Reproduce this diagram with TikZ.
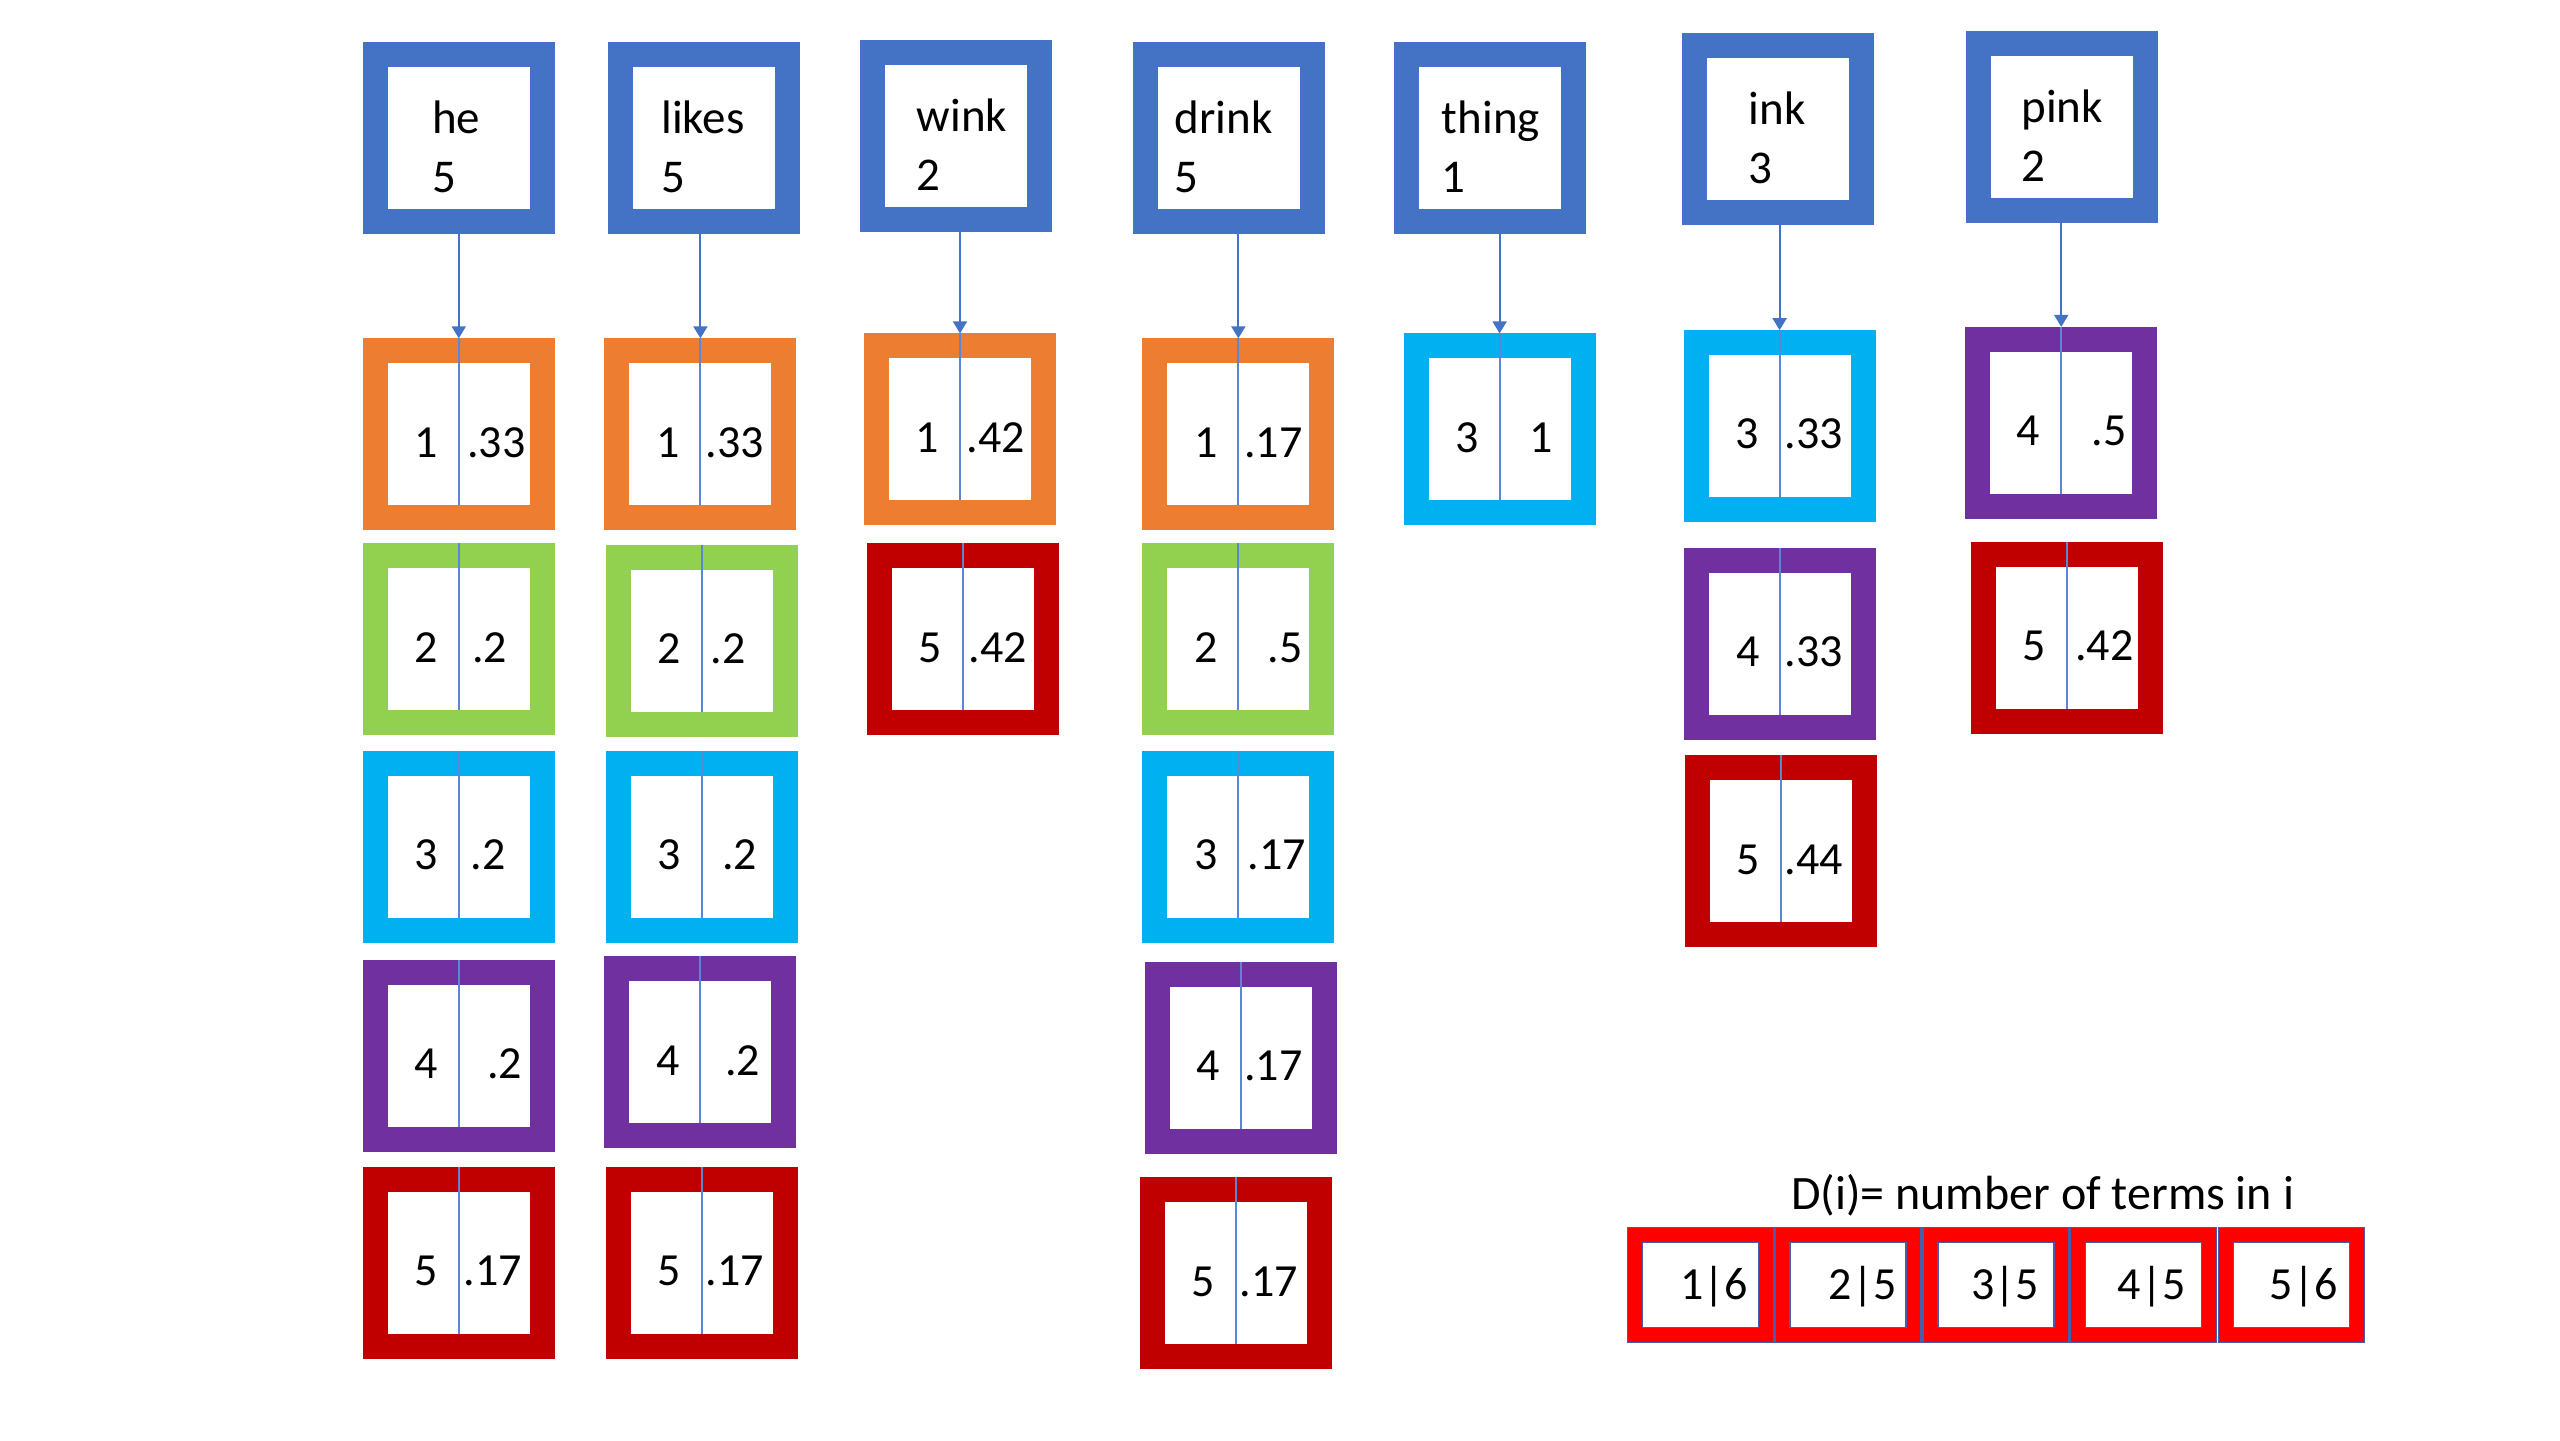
\documentclass[tikz,border=0pt]{standalone}
\usepackage{fontspec}
\setmainfont{Carlito}
\usetikzlibrary{arrows.meta}
\definecolor{tblue}{HTML}{4472C4}
\definecolor{corange}{HTML}{ED7D31}
\definecolor{cgreen}{HTML}{92D050}
\definecolor{ccyan}{HTML}{00B0F0}
\definecolor{cpurple}{HTML}{7030A0}
\definecolor{cred}{HTML}{C00000}
\definecolor{lred}{HTML}{FF0000}
\definecolor{divc}{HTML}{5B86D6}
\definecolor{ledge}{HTML}{4A5DA8}
\tikzset{
  topbox/.style={draw=tblue, line width=25pt, minimum width=167pt, minimum height=167pt, inner sep=0pt, outer sep=12.5pt},
  cellbox/.style={draw=#1, line width=25pt, minimum width=167pt, minimum height=167pt, inner sep=0pt, outer sep=12.5pt},
  divline/.style={draw=divc, line width=2pt},
  ptr/.style={draw=tblue, line width=2pt, -{Triangle[width=14pt,length=12pt]}},
  toptxt/.style={font=\fontsize{47}{58}\selectfont, anchor=base west, inner sep=0pt},
  celltxt/.style={font=\fontsize{46}{54}\selectfont, anchor=base, inner sep=0pt},
  legout/.style={fill=lred, draw=ledge, line width=1.5pt, minimum width=146pt, minimum height=115pt, inner sep=0pt},
  legin/.style={fill=white, draw=ledge, line width=1.5pt, minimum width=116pt, minimum height=85pt, inner sep=0pt},
  legtxt/.style={font=\fontsize{46}{54}\selectfont, anchor=base, inner sep=0pt},
  titletxt/.style={font=\fontsize{48}{56}\selectfont, anchor=base west, inner sep=0pt}
}
% name, cx, cy, word, number, text left x
\newcommand\mktop[6]{%
  \node[topbox] (#1) at (#2,#3) {};
  \node[toptxt] (#1-w) at (#6,{#3-2.5}) {#4};
  \node[toptxt] (#1-n) at (#6,{#3+33.5}) {#5};
}
% name, colour, cx, cy, left text, right text, right offset
\newcommand\mkcell[7]{%
  \node[cellbox=#2] (#1) at (#3,#4) {};
  \draw[divline] (#1.north) -- ([yshift=25pt]#1.south);
  \node[celltxt] (#1-k) at ({#3-20},{#4+14}) {#5};
  \node[celltxt] (#1-v) at ({#3+#7},{#4+14}) {#6};
}
% name, cx, text, text x
\newcommand\mkleg[4]{%
  \node[legout] (#1) at (#2,787) {};
  \node[legin] (#1-in) at (#1.center) {};
  \node[legtxt] (#1-t) at (#4,796) {#3};
}
\begin{document}
\begin{tikzpicture}[x=1.6327pt, y=-1.6327pt]
\fill[white] (0,0) rectangle (1568,882);
\useasboundingbox (0,0) rectangle (1568,882);

\mktop{he}{281}{84.5}{he}{5}{264.5}
\mktop{likes}{431}{84.5}{likes}{5}{405}
\mktop{wink}{585.5}{83}{wink}{2}{561.5}
\mktop{drink}{753}{84.5}{drink}{5}{719.5}
\mktop{thing}{912.5}{84.5}{thing}{1}{883}
\mktop{ink}{1089}{79}{ink}{3}{1071}
\mktop{pink}{1263}{77.5}{pink}{2}{1238}

\mkcell{he1}{corange}{281}{266}{1}{.33}{23}
\mkcell{he2}{cgreen}{281}{391.5}{2}{.2}{19}
\mkcell{he3}{ccyan}{281}{518.5}{3}{.2}{18}
\mkcell{he4}{cpurple}{281}{646.5}{4}{.2}{28}
\mkcell{he5}{cred}{281}{773.5}{5}{.17}{21}

\mkcell{li1}{corange}{429}{266}{1}{.33}{21}
\mkcell{li2}{cgreen}{430}{392.5}{2}{.2}{16}
\mkcell{li3}{ccyan}{430}{518.5}{3}{.2}{23}
\mkcell{li4}{cpurple}{429}{644.5}{4}{.2}{26}
\mkcell{li5}{cred}{430}{773.5}{5}{.17}{20}

\mkcell{wi1}{corange}{588}{263}{1}{.42}{22}
\mkcell{wi2}{cred}{590}{391.5}{5}{.42}{21}

\mkcell{dr1}{corange}{758.5}{266}{1}{.17}{21.5}
\mkcell{dr2}{cgreen}{758.5}{391.5}{2}{.5}{28.5}
\mkcell{dr3}{ccyan}{758.5}{518.5}{3}{.17}{23.5}
\mkcell{dr4}{cpurple}{760}{648}{4}{.17}{20}
\mkcell{dr5}{cred}{757}{780}{5}{.17}{20}

\mkcell{th1}{ccyan}{918.5}{263}{3}{1}{25.5}

\mkcell{in1}{ccyan}{1090}{261}{3}{.33}{21}
\mkcell{in2}{cpurple}{1090.5}{394.5}{4}{.33}{20.5}
\mkcell{in3}{cred}{1091}{521.5}{5}{.44}{20}

\mkcell{pi1}{cpurple}{1262.5}{259}{4}{.5}{29.5}
\mkcell{pi2}{cred}{1266}{390.5}{5}{.42}{23}

\draw[ptr] (he1.north |- he.south) -- (he1.north);
\draw[ptr] (li1.north |- likes.south) -- (li1.north);
\draw[ptr] (wi1.north |- wink.south) -- (wi1.north);
\draw[ptr] (dr1.north |- drink.south) -- (dr1.north);
\draw[ptr] (th1.north |- thing.south) -- (th1.north);
\draw[ptr] (in1.north |- ink.south) -- (in1.north);
\draw[ptr] (pi1.north |- pink.south) -- (pi1.north);

\node[titletxt] (dtitle) at (1097,740.7) {D(i)= number of terms in i};
\mkleg{d1}{1041.5}{1|6}{1050}
\mkleg{d2}{1132}{2|5}{1141}
\mkleg{d3}{1222.5}{3|5}{1228}
\mkleg{d4}{1313}{4|5}{1318}
\mkleg{d5}{1403.4}{5|6}{1411}
\end{tikzpicture}
\end{document}
